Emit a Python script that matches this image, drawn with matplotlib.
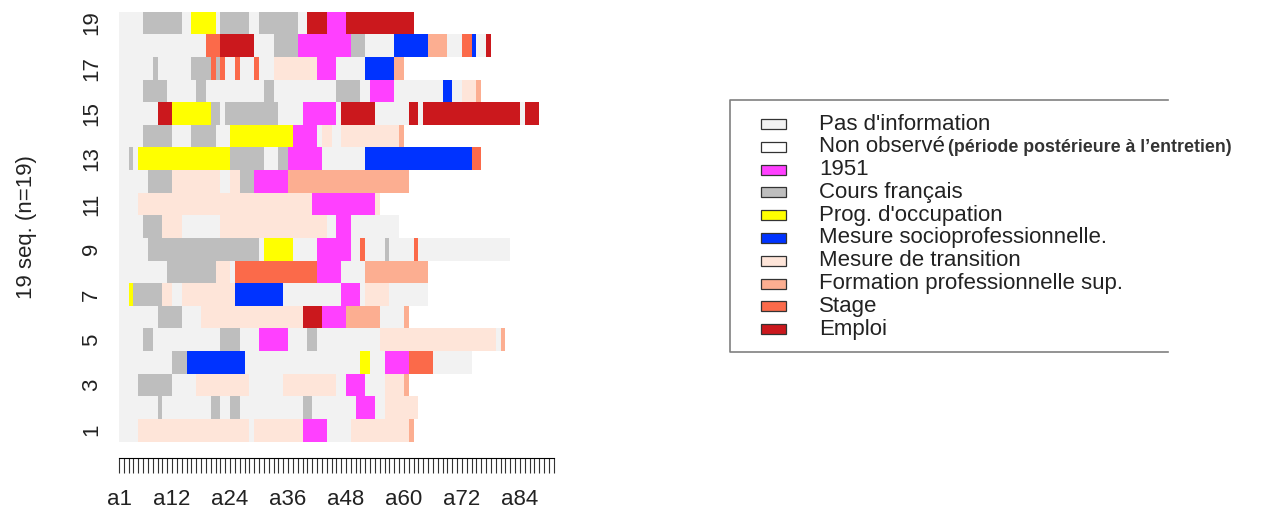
import matplotlib.pyplot as plt

plt.rcParams['font.family'] = ['Liberation Sans', 'DejaVu Sans']

# state alphabet
codes = ['P', 'N', 'A', 'C', 'O', 'M', 'T', 'F', 'S', 'E']
labels = ["Pas d'information", "Non observé", "1951", "Cours français",
          "Prog. d'occupation", "Mesure socioprofessionnelle.",
          "Mesure de transition", "Formation professionnelle sup.",
          "Stage", "Emploi"]
colors = ['#F2F2F2', '#FFFFFF', '#FF40FF', '#BEBEBE', '#FFFF00',
          '#0033FF', '#FEE5D9', '#FCAE91', '#FB6A4A', '#CB181D']

# sequences as (state, months) runs; seq 1 is drawn at the bottom
seq01 = [('P', 4), ('T', 23), ('P', 1), ('T', 10), ('A', 5), ('P', 5), ('T', 12), ('F', 1)]
seq02 = [('P', 8), ('C', 1), ('P', 10), ('C', 2), ('P', 2), ('C', 2), ('P', 13), ('C', 2),
         ('P', 9), ('A', 4), ('P', 2), ('T', 7)]
seq03 = [('P', 4), ('C', 7), ('P', 5), ('T', 11), ('P', 7), ('T', 11), ('P', 2), ('A', 4),
         ('P', 4), ('T', 4), ('F', 1)]
seq04 = [('P', 11), ('C', 3), ('M', 12), ('P', 24), ('O', 2), ('P', 3), ('A', 5), ('S', 5), ('P', 8)]
seq05 = [('P', 5), ('C', 2), ('P', 14), ('C', 4), ('P', 4), ('A', 6), ('P', 4), ('C', 2),
         ('P', 13), ('T', 24), ('P', 1), ('F', 1)]
seq06 = [('P', 8), ('C', 5), ('P', 4), ('T', 21), ('E', 4), ('A', 5), ('F', 7), ('P', 5), ('F', 1)]
seq07 = [('P', 2), ('O', 1), ('C', 6), ('T', 2), ('P', 2), ('T', 11), ('M', 10), ('P', 12),
         ('A', 4), ('P', 1), ('T', 5), ('P', 8)]
seq08 = [('P', 10), ('C', 10), ('T', 3), ('P', 1), ('S', 17), ('A', 5), ('P', 5), ('F', 13)]
seq09 = [('P', 6), ('C', 23), ('P', 1), ('O', 6), ('P', 5), ('A', 7), ('P', 2), ('S', 1),
         ('P', 4), ('C', 1), ('P', 5), ('S', 1), ('P', 19)]
seq10 = [('P', 5), ('C', 4), ('T', 4), ('P', 8), ('T', 22), ('P', 2), ('A', 3), ('P', 10)]
seq11 = [('P', 4), ('T', 36), ('A', 13), ('T', 1)]
seq12 = [('P', 6), ('C', 5), ('T', 10), ('P', 2), ('T', 2), ('C', 3), ('A', 7), ('F', 25)]
seq13 = [('P', 2), ('C', 1), ('P', 1), ('O', 19), ('C', 7), ('P', 3), ('C', 2), ('A', 7),
         ('P', 9), ('M', 22), ('S', 2)]
seq14 = [('P', 5), ('C', 6), ('P', 4), ('C', 5), ('P', 3), ('O', 13), ('A', 5), ('P', 1),
         ('T', 2), ('P', 2), ('T', 12), ('F', 1)]
seq15 = [('P', 8), ('E', 3), ('O', 8), ('C', 2), ('P', 1), ('C', 11), ('P', 5), ('A', 7),
         ('P', 1), ('E', 7), ('P', 7), ('E', 2), ('P', 1), ('E', 20), ('P', 1), ('E', 3)]
seq16 = [('P', 5), ('C', 5), ('P', 6), ('C', 2), ('P', 12), ('C', 2), ('P', 13), ('C', 5),
         ('P', 2), ('A', 5), ('P', 10), ('M', 2), ('P', 2), ('T', 3), ('F', 1)]
seq17 = [('P', 7), ('C', 1), ('P', 7), ('C', 4), ('S', 1), ('C', 1), ('S', 1), ('P', 2),
         ('S', 1), ('P', 3), ('S', 1), ('P', 3), ('T', 9), ('A', 4), ('P', 6), ('M', 6), ('F', 2)]
seq18 = [('P', 18), ('S', 3), ('E', 7), ('P', 4), ('C', 5), ('A', 11), ('C', 3), ('P', 6),
         ('M', 7), ('F', 4), ('P', 3), ('S', 2), ('M', 1), ('P', 2), ('E', 1)]
seq19 = [('P', 5), ('C', 8), ('P', 2), ('O', 5), ('P', 1), ('C', 6), ('P', 2), ('C', 8),
         ('P', 2), ('E', 4), ('A', 4), ('E', 14)]

sequences = [seq01, seq02, seq03, seq04, seq05, seq06, seq07, seq08, seq09, seq10,
             seq11, seq12, seq13, seq14, seq15, seq16, seq17, seq18, seq19]
n_months = 91

col = dict(zip(codes, colors))

W, H = 1263, 513
fig = plt.figure(figsize=(W / 100, H / 100), dpi=100)
ax = fig.add_axes([119 / W, 1 - 441.5 / H, 439.5 / W, 429.8 / H])

for i, seq in enumerate(sequences):
    start = 0
    for st, dur in seq:
        ax.barh(i + 0.5, dur, left=start, height=1.0, color=col[st],
                linewidth=0, antialiased=False)
        start += dur

ax.set_xlim(0, n_months)
ax.set_ylim(0, len(sequences))

ax.set_xticks(range(n_months))
ax.set_xticklabels(['a%d' % (k + 1) if (k + 1 == 1 or (k + 1) % 12 == 0) else ''
                    for k in range(n_months)])
ax.tick_params(axis='x', length=11, width=0.8, color='#333333', pad=11,
               labelsize=16, labelcolor='#222222')
ax.spines['bottom'].set_position(('outward', 12))
ax.spines['bottom'].set_bounds(0, n_months - 1)
ax.spines['bottom'].set_linewidth(0.8)
for s in ['top', 'right', 'left']:
    ax.spines[s].set_visible(False)

ypos = [k + 0.5 for k in range(0, len(sequences), 2)]
ax.set_yticks(ypos)
ax.set_yticklabels([str(k + 1) for k in range(0, len(sequences), 2)],
                   rotation=90, va='center')
ax.tick_params(axis='y', length=0, pad=12, labelsize=16, labelcolor='#222222')
ax.set_ylabel('19 seq. (n=19)', fontsize=16, color='#222222', labelpad=32)

# legend drawn in pixel coordinates
lg = fig.add_axes([0, 0, 1, 1])
lg.set_xlim(0, W)
lg.set_ylim(H, 0)
lg.axis('off')
lg.patch.set_alpha(0)

lg.plot([1168, 730, 730, 1168], [100, 100, 352, 352], color='#808080', lw=1.2)
for k, (lab, c) in enumerate(zip(labels, colors)):
    y = 124 + k * 22.8
    lg.add_patch(plt.Rectangle((761, y - 5), 25, 10, facecolor=c,
                               edgecolor='#333333', lw=0.9))
    lg.text(819, y, lab, fontsize=16, va='center', ha='left', color='#222222')
lg.text(948, 124 + 22.8 + 1, "(période postérieure à l’entretien)", fontsize=12.8,
        fontweight='bold', va='center', ha='left', color='#333333')

fig.savefig('out.png', dpi=100)
